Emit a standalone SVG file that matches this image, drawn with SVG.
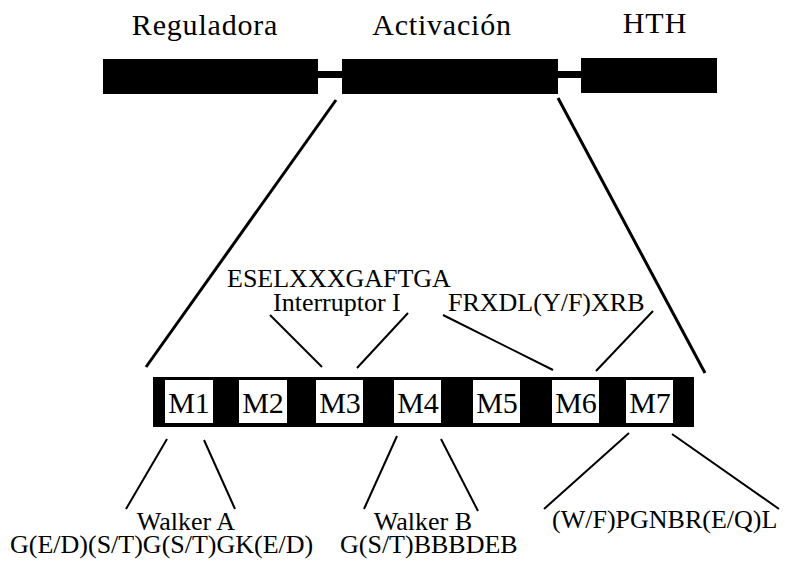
<svg xmlns="http://www.w3.org/2000/svg" width="785" height="561" viewBox="0 0 785 561">
<style>
text{font-family:"Liberation Serif","Times New Roman",serif;fill:#000}
.h{font-size:30px;text-anchor:middle}
.m{font-size:30px;text-anchor:middle}
.l{font-size:26px}
.c{font-size:26px;text-anchor:middle}
.blk{fill:#000}
.box{fill:#fff}
.big{stroke:#000;stroke-width:3;fill:none}
.thin{stroke:#000;stroke-width:2;fill:none}
</style>
<rect width="785" height="561" fill="#fff"/>
<g id="domains">
<g id="reguladora"><rect class="blk" x="103" y="59" width="215" height="35"/><text class="h" x="205" y="35" letter-spacing="0.8">Reguladora</text></g>
<rect class="blk" x="318" y="71" width="24" height="7"/>
<g id="activacion"><rect class="blk" x="342" y="59" width="216" height="35"/><text class="h" x="442" y="35" letter-spacing="0.8">Activación</text></g>
<rect class="blk" x="558" y="71" width="23" height="7"/>
<g id="hth"><rect class="blk" x="581" y="58" width="136" height="35"/><text class="h" x="655" y="33" letter-spacing="1">HTH</text></g>
</g>
<g id="motif-bar">
<rect class="blk" x="153" y="377" width="541" height="50"/>
<g id="M1"><rect class="box" x="165" y="380" width="48" height="43"/><text class="m" x="189" y="413">M1</text></g>
<g id="M2"><rect class="box" x="239" y="380" width="48" height="43"/><text class="m" x="263" y="413">M2</text></g>
<g id="M3"><rect class="box" x="316" y="380" width="47" height="43"/><text class="m" x="340" y="413">M3</text></g>
<g id="M4"><rect class="box" x="394" y="380" width="47" height="43"/><text class="m" x="418" y="413">M4</text></g>
<g id="M5"><rect class="box" x="473" y="380" width="47" height="43"/><text class="m" x="497" y="413">M5</text></g>
<g id="M6"><rect class="box" x="552" y="380" width="47" height="43"/><text class="m" x="576" y="413">M6</text></g>
<g id="M7"><rect class="box" x="626" y="380" width="47" height="43"/><text class="m" x="650" y="413">M7</text></g>
</g>
<g id="connectors">
<line class="big" x1="336" y1="100" x2="146" y2="367"/>
<line class="big" x1="558" y1="98" x2="705" y2="373"/>
<line class="thin" x1="270" y1="315" x2="322" y2="367"/>
<line class="thin" x1="408" y1="313" x2="357" y2="368"/>
<line class="thin" x1="443" y1="315" x2="553" y2="370"/>
<line class="thin" x1="653" y1="311" x2="596" y2="371"/>
<line class="thin" x1="167" y1="439" x2="126" y2="509"/>
<line class="thin" x1="204" y1="440" x2="235" y2="509"/>
<line class="thin" x1="397" y1="436" x2="364" y2="509"/>
<line class="thin" x1="441" y1="439" x2="478" y2="511"/>
<line class="thin" x1="629" y1="433" x2="544" y2="509"/>
<line class="thin" x1="672" y1="434" x2="779" y2="509"/>
</g>
<g id="labels">
<text class="l" x="227" y="287">ESELXXXGAFTGA</text>
<text class="l" x="273" y="311">Interruptor I</text>
<text class="l" x="448" y="311">FRXDL(Y/F)XRB</text>
<text class="c" x="186" y="530">Walker A</text>
<text class="l" x="10" y="553">G(E/D)(S/T)G(S/T)GK(E/D)</text>
<text class="c" x="423" y="530">Walker B</text>
<text class="l" x="340" y="553">G(S/T)BBBDEB</text>
<text class="l" x="552" y="528">(W/F)PGNBR(E/Q)L</text>
</g>
</svg>
